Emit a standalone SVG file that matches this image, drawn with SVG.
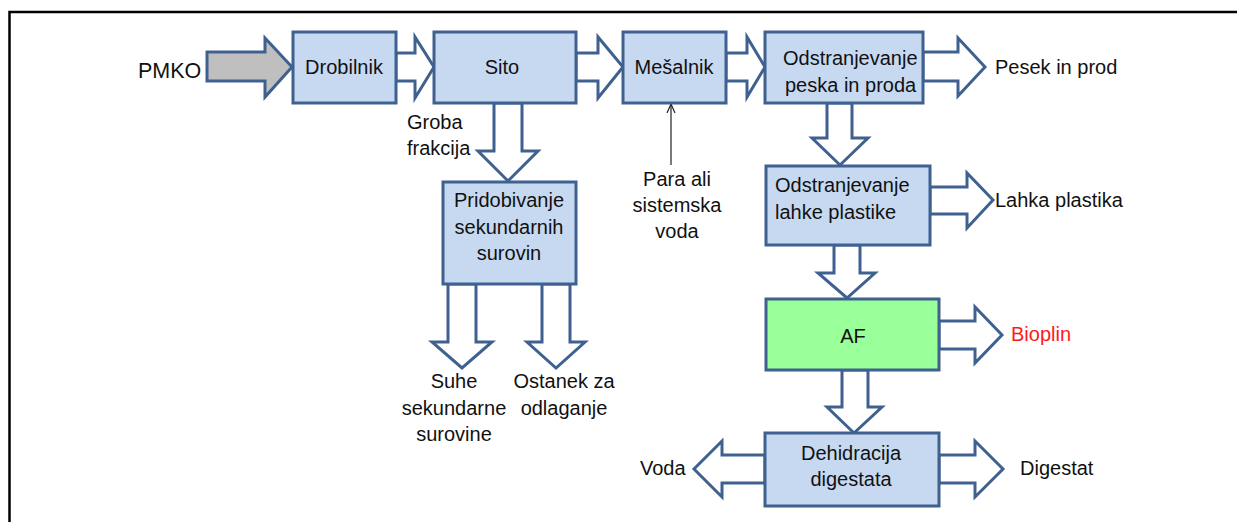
<svg xmlns="http://www.w3.org/2000/svg" width="1237" height="522" viewBox="0 0 1237 522">
  <style>
    .box { fill: #c6d9f1; stroke: #3e6190; stroke-width: 3; }
    .af { fill: #99ff99; stroke: #3e6190; stroke-width: 3; }
    .flow { fill: #ffffff; stroke: #3e6190; stroke-width: 3; stroke-linejoin: miter; }
    .feed { fill: #bfbfbf; stroke: #3e6190; stroke-width: 3; }
    .t { font-family: "Liberation Sans", Arial, sans-serif; font-size: 20px; fill: #111111; }
    .c { text-anchor: middle; }
    .red { fill: #ff1a1a; }
  </style>
  <defs>
    <marker id="open-arrow" viewBox="0 0 10 10" refX="9" refY="5" markerWidth="10" markerHeight="10" markerUnits="userSpaceOnUse" orient="auto">
      <path d="M0,1 L9,5 L0,9" fill="none" stroke="#222222" stroke-width="1.2"/>
    </marker>
  </defs>

  <rect width="1237" height="522" fill="#ffffff"/>
  <!-- frame -->
  <path d="M9.5,522 V12 H1237" fill="none" stroke="#000000" stroke-width="2.5"/>

  <!-- connectors -->
  <g id="connectors">
    <polygon class="feed" points="207,52 265,52 265,38 292,67 265,97 265,81 207,81"/>
    <polygon class="flow" points="396,53 415,53 415,37 434,67 415,98 415,81 396,81"/>
    <polygon class="flow" points="576,53 598,53 598,37 623,67 598,98 598,81 576,81"/>
    <polygon class="flow" points="726,53 747,53 747,37 765,67 747,97 747,81 726,81"/>
    <polygon class="flow" points="923,52 958,52 958,38 985,67 958,96 958,81 923,81"/>
    <polygon class="flow" points="494,103 494,151 478,151 508,181 538,151 522,151 522,103"/>
    <polygon class="flow" points="448,284 448,342 432,342 462,368 492,342 476,342 476,284"/>
    <polygon class="flow" points="542,284 542,342 527,342 556,368 585,342 570,342 570,284"/>
    <polygon class="flow" points="827,103 827,138 812,138 840,165 868,138 852,138 852,103"/>
    <polygon class="flow" points="930,187 967,187 967,173 993,200 967,228 967,214 930,214"/>
    <polygon class="flow" points="834,245 834,273 818,273 847,298 875,273 860,273 860,245"/>
    <polygon class="flow" points="939,321 975,321 975,307 1002,335 975,363 975,349 939,349"/>
    <polygon class="flow" points="842,370 842,407 827,407 854,433 882,407 868,407 868,370"/>
    <polygon class="flow" points="765,455 722,455 722,441 694,469 722,497 722,483 765,483"/>
    <polygon class="flow" points="939,455 975,455 975,441 1003,469 975,497 975,483 939,483"/>
    <line x1="671" y1="165" x2="671" y2="104" stroke="#222222" stroke-width="1.2" marker-end="url(#open-arrow)"/>
  </g>

  <!-- input and output labels -->
  <g id="labels">
    <text class="t" x="138" y="78" style="font-size:21.5px">PMKO</text>
    <text class="t" x="407" y="129">Groba</text>
    <text class="t" x="407" y="155">frakcija</text>
    <text class="t c" x="677" y="186">Para ali</text>
    <text class="t c" x="677" y="212">sistemska</text>
    <text class="t c" x="677" y="238">voda</text>
    <text class="t" x="995" y="74">Pesek in prod</text>
    <text class="t" x="995" y="207">Lahka plastika</text>
    <text class="t red" x="1011" y="341">Bioplin</text>
    <text class="t" x="640" y="475">Voda</text>
    <text class="t" x="1020" y="475">Digestat</text>
    <text class="t c" x="454" y="388">Suhe</text>
    <text class="t c" x="454" y="415">sekundarne</text>
    <text class="t c" x="454" y="441">surovine</text>
    <text class="t c" x="564" y="388">Ostanek za</text>
    <text class="t c" x="564" y="415">odlaganje</text>
  </g>

  <!-- process nodes -->
  <g id="drobilnik">
    <rect class="box" x="293" y="32" width="103" height="71"/>
    <text class="t c" x="344" y="74">Drobilnik</text>
  </g>
  <g id="sito">
    <rect class="box" x="434" y="32" width="142" height="71"/>
    <text class="t c" x="502" y="74">Sito</text>
  </g>
  <g id="mesalnik">
    <rect class="box" x="623" y="32" width="103" height="71"/>
    <text class="t c" x="674" y="74">Mešalnik</text>
  </g>
  <g id="odstranjevanje-peska">
    <rect class="box" x="765" y="32" width="158" height="71"/>
    <text class="t" x="783" y="65">Odstranjevanje</text>
    <text class="t" x="785" y="92">peska in proda</text>
  </g>
  <g id="pridobivanje">
    <rect class="box" x="443" y="182" width="133" height="102"/>
    <text class="t c" x="509" y="207">Pridobivanje</text>
    <text class="t c" x="509" y="234">sekundarnih</text>
    <text class="t c" x="509" y="260">surovin</text>
  </g>
  <g id="odstranjevanje-plastike">
    <rect class="box" x="766" y="166" width="164" height="79"/>
    <text class="t" x="775" y="192">Odstranjevanje</text>
    <text class="t" x="775" y="219">lahke plastike</text>
  </g>
  <g id="af">
    <rect class="af" x="766" y="299" width="173" height="71"/>
    <text class="t c" x="853" y="343">AF</text>
  </g>
  <g id="dehidracija">
    <rect class="box" x="765" y="433" width="174" height="73"/>
    <text class="t c" x="851" y="460">Dehidracija</text>
    <text class="t c" x="851" y="486">digestata</text>
  </g>
</svg>
